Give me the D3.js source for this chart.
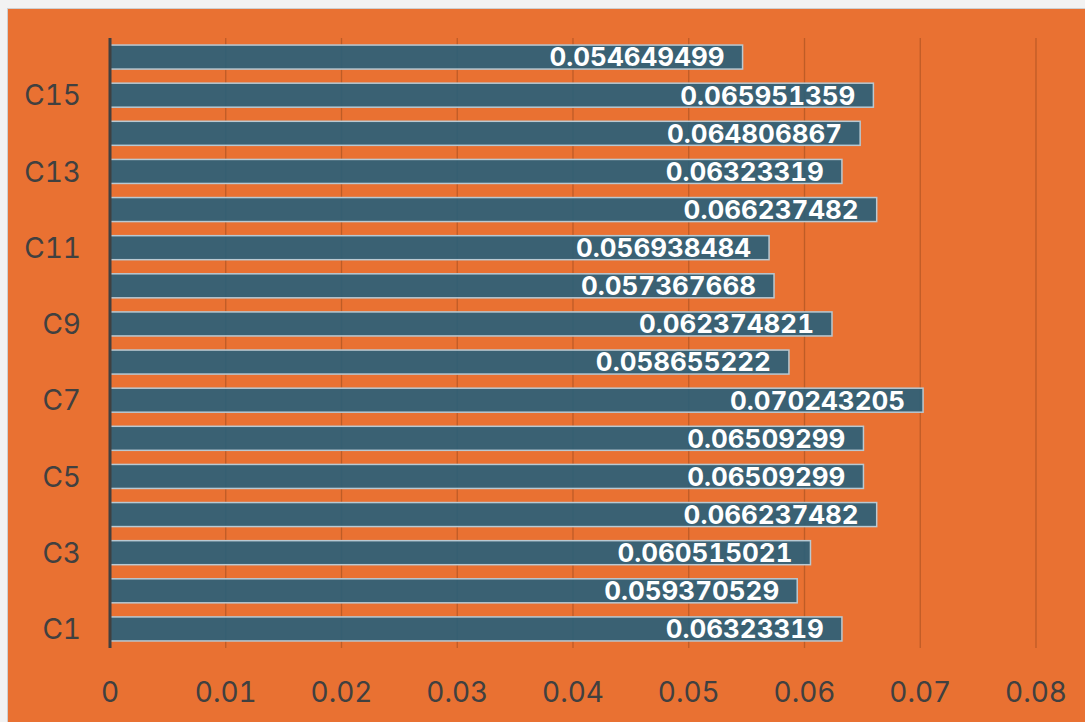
<!DOCTYPE html>
<html>
<head>
<meta charset="utf-8">
<script src="https://cdn.jsdelivr.net/npm/d3@7"></script>
<style>
  html, body { margin: 0; padding: 0; background: #f2f2f2; }
  svg { display: block; }
  text { font-variant-numeric: tabular-nums; }
</style>
</head>
<body>
<svg id="chart" width="1085" height="722"></svg>
<script>
// Categories listed bottom to top
const categories = ["C1","C2","C3","C4","C5","C6","C7","C8","C9","C10","C11","C12","C13","C14","C15","C16"];
const values = [0.06323319, 0.059370529, 0.060515021, 0.066237482, 0.06509299, 0.06509299,
                0.070243205, 0.058655222, 0.062374821, 0.057367668, 0.056938484, 0.066237482,
                0.06323319, 0.064806867, 0.065951359, 0.054649499];
const xTicks = [0, 0.01, 0.02, 0.03, 0.04, 0.05, 0.06, 0.07, 0.08];
const yLabelled = ["C1","C3","C5","C7","C9","C11","C13","C15"];

const W = 1085, H = 722;
const svg = d3.select("#chart");
const font = "Inter, 'Noto Sans', sans-serif";

// chart area frame
svg.append("rect").attr("x", 7.5).attr("y", 8.5).attr("width", W).attr("height", H)
  .attr("fill", "#E97132").attr("stroke", "#cfcfcf").attr("stroke-width", 1);

const plot = { left: 110, right: 1036, top: 38, bottom: 648 };

const x = d3.scaleLinear().domain([0, 0.08]).range([plot.left, plot.right]);
const y = d3.scaleBand().domain(categories.slice().reverse()).range([plot.top, plot.bottom]).paddingInner(0.37).paddingOuter(0.185);

// vertical gridlines
svg.append("g").selectAll("line").data(xTicks.slice(1)).join("line")
  .attr("x1", d => x(d)).attr("x2", d => x(d))
  .attr("y1", plot.top).attr("y2", plot.bottom)
  .attr("stroke", "#9a4a1e").attr("stroke-opacity", 0.55).attr("stroke-width", 1.3);

// bars
const rows = categories.map((c, i) => ({ c, v: values[i] }));
svg.append("g").selectAll("rect").data(rows).join("rect")
  .attr("x", x(0)).attr("y", d => y(d.c))
  .attr("width", d => x(d.v) - x(0)).attr("height", y.bandwidth())
  .attr("fill", "#2a5f78").attr("fill-opacity", 0.92)
  .attr("stroke", "#b9c9d2").attr("stroke-width", 1.5);

// value labels
svg.append("g").selectAll("text").data(rows).join("text")
  .attr("x", d => x(d.v) - 18).attr("y", d => y(d.c) + y.bandwidth() / 2)
  .attr("dy", "0.36em").attr("text-anchor", "end")
  .attr("fill", "#ffffff").attr("font-family", font).attr("font-weight", 700).attr("font-size", 26)
  .text(d => d.v);

// y axis line
svg.append("line").attr("x1", x(0)).attr("x2", x(0)).attr("y1", plot.top).attr("y2", plot.bottom)
  .attr("stroke", "#404040").attr("stroke-width", 3);

// y labels
svg.append("g").selectAll("text").data(yLabelled).join("text")
  .attr("x", 81).attr("y", d => y(d) + y.bandwidth() / 2)
  .attr("dy", "0.36em").attr("text-anchor", "end")
  .attr("fill", "#404040").attr("font-family", font).attr("font-size", 28)
  .text(d => d);

// x tick labels
svg.append("g").selectAll("text").data(xTicks).join("text")
  .attr("x", d => x(d)).attr("y", 692).attr("dy", "0.36em").attr("text-anchor", "middle")
  .attr("fill", "#404040").attr("font-family", font).attr("font-size", 28)
  .text(d => d);
</script>
</body>
</html>
